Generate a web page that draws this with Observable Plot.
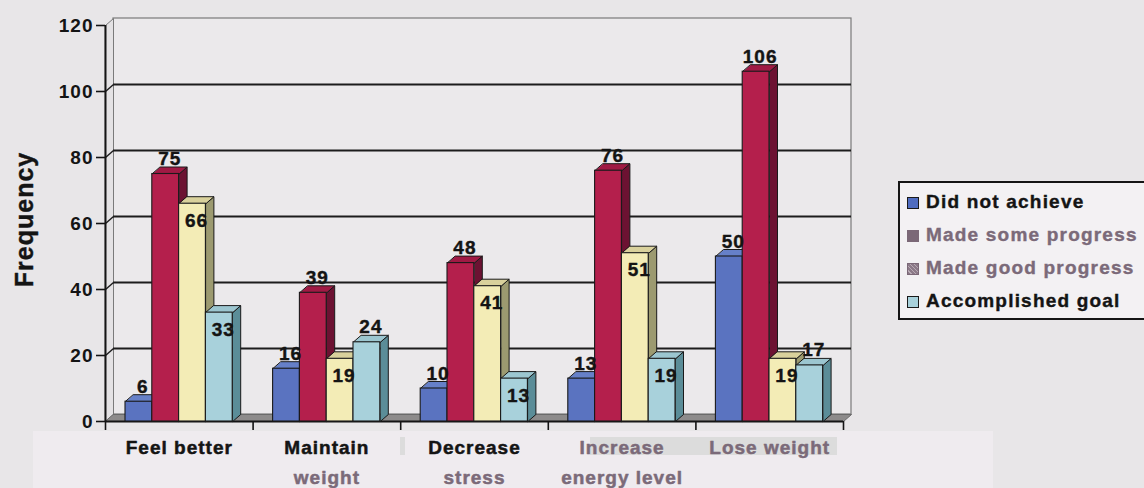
<!DOCTYPE html>
<html>
<head>
<meta charset="utf-8">
<script src="https://cdn.jsdelivr.net/npm/d3@7"></script>
<script src="https://cdn.jsdelivr.net/npm/@observablehq/plot@0.6"></script>
<style>
  body { margin: 0; background: #e8e6e8; }
  #wrap { position: relative; width: 1144px; height: 488px; overflow: hidden; background: #e8e6e8; }
  .patch { position: absolute; }
  #chart { position: absolute; left: 0; top: 0; }
  #legend {
    position: absolute; left: 898px; top: 181px; width: 270px; height: 133px;
    border: 2px solid #151515; background: #f3f1f3; padding-top: 2px; box-sizing: content-box;
    font-family: "Liberation Sans", Arial, sans-serif; font-weight: bold; font-size: 19px; letter-spacing: 1.2px;
    -webkit-text-stroke: 0.4px currentColor;
  }
  .row { height: 33px; line-height: 33px; white-space: nowrap; padding-left: 7px; }
  .sw { display: inline-block; width: 10px; height: 10px; margin-right: 7px; vertical-align: -1px; border: 1.5px solid #1a1a1a; }
</style>
</head>
<body>
<div id="wrap">
  <div class="patch" style="left:33px;top:431px;width:960px;height:57px;background:#efebef;"></div>
  <div class="patch" style="left:400px;top:437px;width:5px;height:18px;background:#dcdcdc;"></div>
  <div class="patch" style="left:590px;top:437px;width:247px;height:18px;background:#dcdcdc;"></div>
  <div id="chart"></div>
  <div id="legend"></div>
</div>
<script>
// Survey results: how far respondents got towards each exercise goal
const categories = ["Feel better", "Maintain\nweight", "Decrease\nstress", "Increase\nenergy level", "Lose weight"];
const seriesNames = ["Did not achieve", "Made some progress", "Made good progress", "Accomplished goal"];
const didNotAchieve    = [6, 16, 10, 13, 50];
const madeSomeProgress = [75, 39, 48, 76, 106];
const madeGoodProgress = [66, 19, 41, 51, 19];
const accomplishedGoal = [33, 24, 13, 19, 17];
const yTicks = [0, 20, 40, 60, 80, 100, 120];

const seriesValues = [didNotAchieve, madeSomeProgress, madeGoodProgress, accomplishedGoal];

// face colours per series: front, side, top
const frontColors = ["#5a73c0", "#b41f4c", "#f3ecb6", "#a8d1db"];
const sideColors  = ["#364b8e", "#6c1232", "#9c9a70", "#5b8d98"];
const topColors   = ["#6680c8", "#a01a44", "#d9d19c", "#9cc6d0"];
const mutedInk = "#7b6a79";
const ink = "#141414";

// 3D extrusion: depth in scale units (8px right, 7px up)
const W = 1144, H = 488;
const mL = 105, mR = W - 843, mT = 25, mB = H - 421;
const bandPx = (W - mL - mR) / categories.length;
const pxPerUnitY = (H - mT - mB) / 120;
const depthX = 8 / bandPx;
const depthY = 7 / pxPerUnitY;
const groupInset = 20 / bandPx;
const barW = 26.8 / bandPx;

// a value label drops inside its column when the column to its left stands clearly taller
const bars = [];
categories.forEach((c, i) => {
  seriesValues.forEach((vals, s) => {
    const xl = i + groupInset + s * barW;
    const prev = s > 0 ? seriesValues[s - 1][i] : -Infinity;
    bars.push({i, s, value: vals[i], xl, xr: xl + barW, inside: prev - vals[i] > 3});
  });
});

const sides = bars.flatMap((b, k) => [
  {id: k, x: b.xr, y: 0}, {id: k, x: b.xr + depthX, y: depthY},
  {id: k, x: b.xr + depthX, y: b.value + depthY}, {id: k, x: b.xr, y: b.value}
].map(p => ({...p, fill: sideColors[b.s]})));

const tops = bars.flatMap((b, k) => [
  {id: k, x: b.xl, y: b.value}, {id: k, x: b.xr, y: b.value},
  {id: k, x: b.xr + depthX, y: b.value + depthY}, {id: k, x: b.xl + depthX, y: b.value + depthY}
].map(p => ({...p, fill: topColors[b.s]})));

const n = categories.length;
const floor = [
  {x: 0, y: 0}, {x: n, y: 0}, {x: n + depthX, y: depthY}, {x: depthX, y: depthY}
];
const leftWall = [
  {x: 0, y: 0}, {x: depthX, y: depthY}, {x: depthX, y: 120 + depthY}, {x: 0, y: 120}
];

const catLines = categories.map((c, i) => {
  const [first, second] = c.split("\n");
  return {i, first, second: second || ""};
});

const labelFont = {fontSize: 19, fontWeight: "bold", fill: ink, stroke: ink, strokeWidth: 0.4};

const chart = Plot.plot({
  width: W, height: H,
  marginLeft: mL, marginRight: mR, marginTop: mT, marginBottom: mB,
  style: {background: "transparent", fontFamily: "'Liberation Sans', Arial, sans-serif", fontWeight: "bold", color: ink, overflow: "visible"},
  x: {domain: [0, n], axis: null},
  y: {domain: [0, 120], axis: null},
  color: {type: "identity"},
  marks: [
    // back wall, side wall and floor
    Plot.rect([0], {x1: depthX, x2: n + depthX, y1: depthY, y2: 120 + depthY, fill: "#ebe9eb", stroke: "#7a7a7a", strokeWidth: 1.2}),
    Plot.line(leftWall, {x: "x", y: "y", fill: "#e4e2e4", stroke: "#7a7a7a", strokeWidth: 1, curve: "linear-closed"}),
    Plot.line(floor, {x: "x", y: "y", fill: "#8d8b8b", stroke: "#6a6a6a", strokeWidth: 1, curve: "linear-closed"}),
    // gridlines on the back wall, joined to the axis ticks
    Plot.ruleY(yTicks.filter(v => v > 0 && v < 120), {y: v => v + depthY, x1: depthX, x2: n + depthX, stroke: "#1c1c1c", strokeWidth: 1.8}),
    Plot.link(yTicks.filter(v => v > 0 && v < 120), {x1: 0, y1: v => v, x2: depthX, y2: v => v + depthY, stroke: "#1c1c1c", strokeWidth: 1.4}),
    // axes
    Plot.axisY({ticks: yTicks, tickSize: 9, tickPadding: 3, fontSize: 19, fontWeight: "bold", label: null, strokeWidth: 1.6}),
    Plot.axisX({ticks: d3.range(n + 1), tickFormat: () => "", tickSize: 9, strokeWidth: 1.6, label: null}),
    Plot.ruleX([0], {y1: 0, y2: 120, stroke: ink, strokeWidth: 2}),
    Plot.ruleY([0], {x1: 0, x2: n, stroke: ink, strokeWidth: 2}),
    // 3D columns: sides, tops, then front faces
    Plot.line(sides, {x: "x", y: "y", z: "id", fill: "fill", stroke: "#1a1a1a", strokeWidth: 1, curve: "linear-closed"}),
    Plot.line(tops, {x: "x", y: "y", z: "id", fill: "fill", stroke: "#1a1a1a", strokeWidth: 1, curve: "linear-closed"}),
    Plot.rect(bars, {x1: "xl", x2: "xr", y1: 0, y2: "value", fill: d => frontColors[d.s], stroke: "#1a1a1a", strokeWidth: 1.1}),
    // value labels
    Plot.text(bars.filter(d => !d.inside), {x: d => (d.xl + d.xr) / 2 + depthX / 2, y: "value", text: d => String(d.value), dy: -15, ...labelFont}),
    Plot.text(bars.filter(d => d.inside), {x: d => (d.xl + d.xr) / 2 + depthX / 2, y: "value", text: d => String(d.value), dy: 17, ...labelFont}),
    // category labels
    Plot.text(catLines, {x: d => d.i + 0.5, y: 0, dy: 26, text: "first", fill: d => d.i < 3 ? ink : mutedInk, stroke: d => d.i < 3 ? ink : mutedInk, strokeWidth: 0.5, fontSize: 19, fontWeight: "bold"}),
    Plot.text(catLines, {x: d => d.i + 0.5, y: 0, dy: 56, text: "second", fill: mutedInk, stroke: mutedInk, strokeWidth: 0.5, fontSize: 19, fontWeight: "bold"}),
    // y axis title
    Plot.text(["Frequency"], {frameAnchor: "left", textAnchor: "middle", dx: -81, dy: -4, rotate: -90, fontSize: 25, fontWeight: "bold", fill: ink, stroke: ink, strokeWidth: 0.4})
  ]
});
chart.querySelectorAll("text").forEach(t => t.style.letterSpacing = "1px");
document.getElementById("chart").appendChild(chart);

// legend
const swatchStyles = [
  "background:#4f6cc0;",
  "background:#7b6877;border-color:#7b6877;",
  "background:#8c7a88 repeating-linear-gradient(45deg,#8c7a88 0 2px,#b8aab4 2px 3px);border-color:#7b6877;",
  "background:#a8d1db;"
];
const legendInk = [ink, mutedInk, mutedInk, ink];
const legend = document.getElementById("legend");
seriesNames.forEach((name, s) => {
  const row = document.createElement("div");
  row.className = "row";
  row.style.color = legendInk[s];
  const sw = document.createElement("span");
  sw.className = "sw";
  sw.style.cssText = swatchStyles[s];
  row.appendChild(sw);
  row.appendChild(document.createTextNode(name));
  legend.appendChild(row);
});
</script>
</body>
</html>
